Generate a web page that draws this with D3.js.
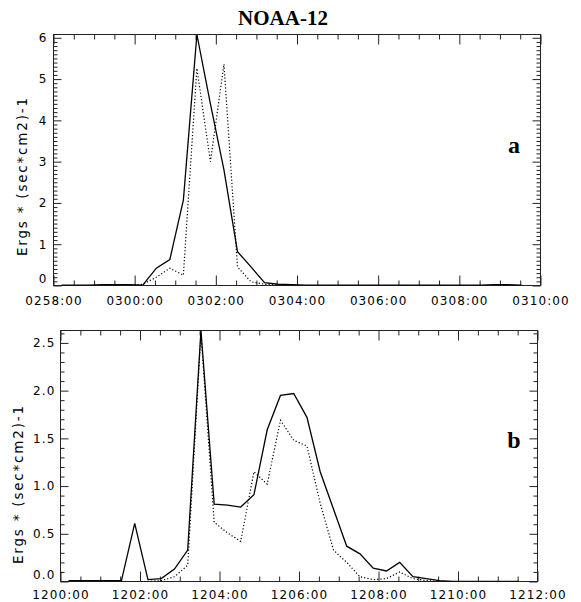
<!DOCTYPE html>
<html>
<head>
<meta charset="utf-8">
<script src="https://cdn.jsdelivr.net/npm/d3@7"></script>
<style>
  html, body { margin: 0; padding: 0; background: #fff; }
  svg { display: block; }
  .tick text { font-family: "DejaVu Sans", sans-serif; }
</style>
</head>
<body>
<svg id="chart" width="581" height="602"></svg>
<script>
// ---------------- DATA ----------------
const chartTitle = "NOAA-12";
const yAxisTitle = "Ergs * (sec*cm2)-1";

// Panel a
const timesA = ["0258:12","0258:32","0258:52","0259:12","0259:32","0259:52",
  "0300:12","0300:32","0300:52","0301:12","0301:32","0301:52","0302:12","0302:32","0302:52",
  "0303:12","0303:32","0303:52","0304:12","0304:32","0304:52","0305:12","0305:32","0305:52",
  "0306:12","0306:32","0306:52","0307:12","0307:32","0307:52","0308:12","0308:32","0308:52",
  "0309:12","0309:32"];
const solidA = [0.01,0.01,0.01,0.02,0.02,0.02,
  0.01,0.42,0.63,2.07,6.08,4.40,2.80,0.82,0.45,
  0.07,0.03,0.02,0.01,0.01,0.01,0.01,0.01,0.01,
  0.01,0.01,0.01,0.01,0.01,0.01,0.01,0.01,0.02,
  0.02,0.01];
const dottedA = [0.00,0.00,0.00,0.00,0.00,0.01,
  0.03,0.20,0.42,0.25,5.26,3.00,5.36,0.45,0.09,
  0.03,0.01,0.00,0.00,0.00,0.00,0.00,0.00,0.00,
  0.00,0.00,0.00,0.00,0.00,0.00,0.00,0.00,0.00,
  0.00,0.00];
const xTickLabelsA = ["0258:00","0300:00","0302:00","0304:00","0306:00","0308:00","0310:00"];
const yTicksA = [0,1,2,3,4,5,6];

// Panel b
const timesB = ["1200:12","1200:32","1200:52","1201:12","1201:32","1201:52",
  "1202:12","1202:32","1202:52","1203:12","1203:32","1203:52","1204:12","1204:32","1204:52",
  "1205:12","1205:32","1205:52","1206:12","1206:32","1206:52","1207:12","1207:32","1207:52",
  "1208:12","1208:32","1208:52","1209:12","1209:32","1209:52","1210:12","1210:32","1210:52",
  "1211:12","1211:32"];
const solidB = [0.01,0.01,0.01,0.01,0.01,0.61,
  0.02,0.03,0.13,0.33,2.63,0.81,0.80,0.78,0.91,
  1.59,1.95,1.97,1.72,1.15,0.76,0.37,0.29,0.14,
  0.11,0.20,0.05,0.03,0.01,0.00,0.00,0.00,0.00,
  0.00,0.00];
const dottedB = [0.00,0.00,0.00,0.00,0.00,0.00,
  0.00,0.01,0.05,0.17,2.60,0.62,0.51,0.42,1.15,
  1.02,1.69,1.48,1.42,0.82,0.33,0.20,0.05,0.02,
  0.03,0.10,0.03,0.01,0.00,0.00,0.00,0.00,0.00,
  0.00,0.00];
const xTickLabelsB = ["1200:00","1202:00","1204:00","1206:00","1208:00","1210:00","1212:00"];
const yTicksB = [0.0,0.5,1.0,1.5,2.0,2.5];

// ---------------- HELPERS ----------------
function toSec(s) {
  const hh = +s.slice(0,2), mm = +s.slice(2,4), ss = +s.slice(5,7);
  return (hh*60 + mm)*60 + ss;
}

const svg = d3.select("#chart");

svg.append("text")
  .attr("x", 283).attr("y", 25)
  .attr("text-anchor", "middle")
  .attr("font-family", "Liberation Serif, Times New Roman, serif")
  .attr("font-weight", "bold")
  .attr("font-size", 21)
  .text(chartTitle);

function drawPanel(cfg) {
  const t0 = toSec(cfg.xLabels[0]);
  const t1 = toSec(cfg.xLabels[cfg.xLabels.length - 1]);
  const x = d3.scaleLinear().domain([0, t1 - t0]).range([cfg.left, cfg.right]);
  const yMax = d3.max(cfg.solid.concat(cfg.dotted));
  const y = d3.scaleLinear().domain([0, yMax]).range([cfg.bottom, cfg.top]);

  const g = svg.append("g");

  const majorX = cfg.xLabels.map(s => toSec(s) - t0);
  const minorX = d3.range(0, t1 - t0 + 1, 30).filter(v => !majorX.includes(v));
  const majorY = cfg.yTicks;
  const minorY = d3.range(0, Math.round(yMax*10) + 1).map(i => +(i*0.1).toFixed(2))
                  .filter(v => v <= yMax && !majorY.some(m => Math.abs(m - v) < 1e-6));

  const axisStyle = sel => {
    sel.select(".domain").remove();
    sel.selectAll(".tick line").attr("stroke", "#222").attr("stroke-width", 1);
  };

  // x ticks (bottom and top, inward)
  g.append("g").attr("transform", `translate(0,${cfg.bottom})`)
    .call(d3.axisBottom(x).tickValues(majorX).tickSize(-10).tickFormat("")).call(axisStyle);
  g.append("g").attr("transform", `translate(0,${cfg.bottom})`)
    .call(d3.axisBottom(x).tickValues(minorX).tickSize(-5).tickFormat("")).call(axisStyle);
  g.append("g").attr("transform", `translate(0,${cfg.top})`)
    .call(d3.axisTop(x).tickValues(majorX).tickSize(-10).tickFormat("")).call(axisStyle);
  g.append("g").attr("transform", `translate(0,${cfg.top})`)
    .call(d3.axisTop(x).tickValues(minorX).tickSize(-5).tickFormat("")).call(axisStyle);

  // x labels
  const xl = g.append("g").attr("transform", `translate(0,${cfg.bottom})`)
    .call(d3.axisBottom(x).tickValues(majorX).tickSize(0).tickPadding(cfg.xPad)
      .tickFormat((d, i) => cfg.xLabels[i]));
  xl.select(".domain").remove();
  xl.selectAll("text").attr("font-size", 12).attr("letter-spacing", "1.1px")
    .attr("fill", "#000").attr("font-family", "DejaVu Sans, sans-serif");

  // y ticks (left and right, inward)
  g.append("g").attr("transform", `translate(${cfg.left},0)`)
    .call(d3.axisLeft(y).tickValues(majorY).tickSize(-8).tickFormat("")).call(axisStyle);
  g.append("g").attr("transform", `translate(${cfg.left},0)`)
    .call(d3.axisLeft(y).tickValues(minorY).tickSize(-4).tickFormat("")).call(axisStyle);
  g.append("g").attr("transform", `translate(${cfg.right},0)`)
    .call(d3.axisRight(y).tickValues(majorY).tickSize(-8).tickFormat("")).call(axisStyle);
  g.append("g").attr("transform", `translate(${cfg.right},0)`)
    .call(d3.axisRight(y).tickValues(minorY).tickSize(-4).tickFormat("")).call(axisStyle);

  const yl = g.append("g").attr("transform", `translate(${cfg.left},0)`)
    .call(d3.axisLeft(y).tickValues(majorY).tickSize(0).tickPadding(cfg.yPad)
      .tickFormat(d3.format(cfg.yFmt)));
  yl.select(".domain").remove();
  yl.selectAll("text").attr("font-size", 12).attr("letter-spacing", "1.1px")
    .attr("fill", "#000").attr("font-family", "DejaVu Sans, sans-serif");
  // lowest label sits a little above its tick, as in the original
  yl.selectAll(".tick").filter(d => d === 0).select("text").attr("dy", "-0.0em").attr("y", -3.5);

  // frame
  g.append("rect")
    .attr("x", cfg.left).attr("y", cfg.top)
    .attr("width", cfg.right - cfg.left).attr("height", cfg.bottom - cfg.top)
    .attr("fill", "none").attr("stroke", "#222").attr("stroke-width", 1);

  // y title
  g.append("text")
    .attr("transform", `translate(${cfg.yTitleX},${cfg.yTitleY}) rotate(-90)`)
    .attr("text-anchor", "middle")
    .attr("font-family", "DejaVu Sans, sans-serif")
    .attr("font-size", 13.5)
    .attr("textLength", 158).attr("lengthAdjust", "spacing")
    .text(yAxisTitle);

  // series
  const pts = cfg.times.map(s => toSec(s) - t0);
  const line = d3.line().x((d) => x(d[0])).y(d => y(d[1]));
  const clipId = "clip" + cfg.id;
  svg.append("clipPath").attr("id", clipId).append("rect")
    .attr("x", cfg.left).attr("y", cfg.top - 1)
    .attr("width", cfg.right - cfg.left).attr("height", cfg.bottom - cfg.top + 1);
  const lg = g.append("g").attr("clip-path", `url(#${clipId})`);
  lg.append("path").datum(pts.map((p, i) => [p, cfg.dotted[i]]))
    .attr("d", line).attr("fill", "none").attr("stroke", "#000")
    .attr("stroke-width", 1.2).attr("stroke-dasharray", "1.2,2.1");
  lg.append("path").datum(pts.map((p, i) => [p, cfg.solid[i]]))
    .attr("d", line).attr("fill", "none").attr("stroke", "#000")
    .attr("stroke-width", 1.3).attr("stroke-linejoin", "miter");

  // panel letter
  g.append("text")
    .attr("x", cfg.letterX).attr("y", cfg.letterY)
    .attr("text-anchor", "middle")
    .attr("font-family", "Liberation Serif, Times New Roman, serif")
    .attr("font-weight", "bold").attr("font-size", 24)
    .text(cfg.letter);
}

drawPanel({
  id: "a", times: timesA, solid: solidA, dotted: dottedA,
  xLabels: xTickLabelsA, yTicks: yTicksA, yFmt: "d",
  left: 53.5, right: 540.5, top: 34.5, bottom: 285.5,
  xPad: 11, yPad: 6, yTitleX: 27, yTitleY: 177,
  letter: "a", letterX: 514, letterY: 153
});

drawPanel({
  id: "b", times: timesB, solid: solidB, dotted: dottedB,
  xLabels: xTickLabelsB, yTicks: yTicksB, yFmt: ".1f",
  left: 60.5, right: 537.5, top: 330.5, bottom: 581.5,
  xPad: 9, yPad: 5, yTitleX: 23, yTitleY: 485,
  letter: "b", letterX: 514, letterY: 448
});
</script>
</body>
</html>
